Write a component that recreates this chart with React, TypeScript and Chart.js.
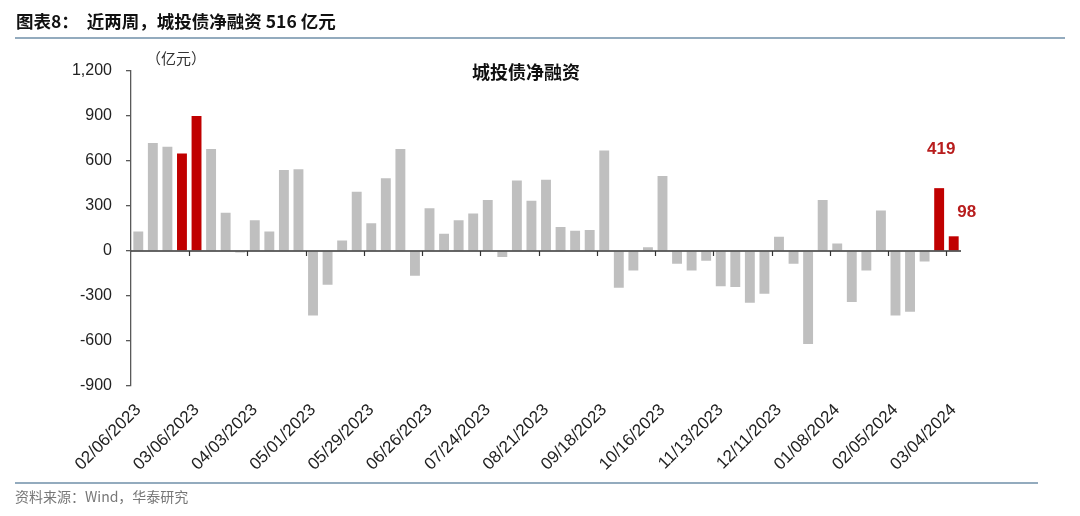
import React, { useEffect, useRef } from "react";
import { Chart, registerables } from "chart.js";

Chart.register(...registerables);

const weeks: string[] = [
  "02/06/2023", "02/13/2023", "02/20/2023", "02/27/2023", "03/06/2023", "03/13/2023", "03/20/2023", "03/27/2023",
  "04/03/2023", "04/10/2023", "04/17/2023", "04/24/2023", "05/01/2023", "05/08/2023", "05/15/2023", "05/22/2023",
  "05/29/2023", "06/05/2023", "06/12/2023", "06/19/2023", "06/26/2023", "07/03/2023", "07/10/2023", "07/17/2023",
  "07/24/2023", "07/31/2023", "08/07/2023", "08/14/2023", "08/21/2023", "08/28/2023", "09/04/2023", "09/11/2023",
  "09/18/2023", "09/25/2023", "10/02/2023", "10/09/2023", "10/16/2023", "10/23/2023", "10/30/2023", "11/06/2023",
  "11/13/2023", "11/20/2023", "11/27/2023", "12/04/2023", "12/11/2023", "12/18/2023", "12/25/2023", "01/01/2024",
  "01/08/2024", "01/15/2024", "01/22/2024", "01/29/2024", "02/05/2024", "02/12/2024", "02/19/2024", "02/26/2024",
  "03/04/2024",
];

const netFinancing: number[] = [
  130, 720, 695, 650, 900, 680, 255, -10,
  205, 130, 540, 545, -430, -225, 70, 395,
  185, 485, 680, -165, 285, 115, 205, 250,
  340, -40, 470, 335, 475, 160, 135, 140,
  670, -245, -130, 25, 500, -85, -130, -65,
  -235, -240, -345, -285, 95, -85, -620, 340,
  50, -340, -130, 270, -430, -405, -70, 419,
  98,
];

const highlightWeeks: string[] = ["02/27/2023", "03/06/2023", "02/26/2024", "03/04/2024"];
const labeledWeeks: string[] = ["02/26/2024", "03/04/2024"];

const yTicks: number[] = [-900, -600, -300, 0, 300, 600, 900, 1200];
const labelEvery = 4;

const headerText = "图表8：  近两周，城投债净融资 516 亿元";
const chartTitle = "城投债净融资";
const unitText = "（亿元）";
const sourceText = "资料来源：Wind，华泰研究";

const GRAY = "#bfbfbf";
const RED = "#c00000";
const LABEL_RED = "#b81d1d";
const CJK = '"Noto Sans CJK SC", sans-serif';
const LATIN = '"Liberation Sans", Arial, sans-serif';

export default function App() {
  const ref = useRef<HTMLCanvasElement | null>(null);

  useEffect(() => {
    document.body.style.margin = "0";
    const canvas = ref.current;
    if (!canvas) return;

    const decor = {
      id: "decor",
      beforeDraw(chart: any) {
        const ctx = chart.ctx;
        ctx.save();
        ctx.fillStyle = "#ffffff";
        ctx.fillRect(0, 0, chart.width, chart.height);
        ctx.restore();
      },
      afterDraw(chart: any) {
        const ctx = chart.ctx;
        const { left, right } = chart.chartArea;
        const x = chart.scales.x;
        const y = chart.scales.y;
        ctx.save();
        // header
        ctx.fillStyle = "#111";
        ctx.font = `bold 17.5px ${CJK}`;
        ctx.textBaseline = "middle";
        ctx.textAlign = "left";
        ctx.fillText(headerText, 16, 21);
        ctx.strokeStyle = "#6f8fa8";
        ctx.lineWidth = 1.6;
        ctx.beginPath();
        ctx.moveTo(15, 38);
        ctx.lineTo(1065, 38);
        ctx.stroke();
        ctx.beginPath();
        ctx.moveTo(15, 483);
        ctx.lineTo(1038, 483);
        ctx.stroke();
        // source
        ctx.fillStyle = "#777";
        ctx.font = `14px ${CJK}`;
        ctx.fillText(sourceText, 15, 497);
        // unit
        ctx.fillStyle = "#333";
        ctx.font = `15px ${CJK}`;
        ctx.fillText(unitText, 146, 58);
        // title
        ctx.fillStyle = "#111";
        ctx.font = `bold 18px ${CJK}`;
        ctx.textAlign = "center";
        ctx.fillText(chartTitle, 526, 72);

        // zero line with tick marks
        const y0 = y.getPixelForValue(0);
        ctx.strokeStyle = "#333";
        ctx.lineWidth = 1.3;
        ctx.beginPath();
        ctx.moveTo(left, y0);
        ctx.lineTo(right, y0);
        ctx.stroke();
        const half = (x.getPixelForValue(1) - x.getPixelForValue(0)) / 2;
        ctx.lineWidth = 1.2;
        for (let i = labelEvery; i < weeks.length; i += labelEvery) {
          const px = Math.round(x.getPixelForValue(i) - half) + 0.5;
          ctx.beginPath();
          ctx.moveTo(px, y0);
          ctx.lineTo(px, y0 + 5);
          ctx.stroke();
        }

        // value labels
        ctx.fillStyle = LABEL_RED;
        ctx.font = `bold 17px ${LATIN}`;
        const meta = chart.getDatasetMeta(0);
        labeledWeeks.forEach((w, k) => {
          const i = weeks.indexOf(w);
          const bar = meta.data[i];
          const v = netFinancing[i];
          ctx.textAlign = "center";
          if (k === 0) {
            ctx.fillText(String(v), bar.x + 2, bar.y - 39);
          } else {
            ctx.fillText(String(v), bar.x + 13, bar.y - 24);
          }
        });
        ctx.restore();
      },
    };

    const chart = new Chart(canvas, {
      type: "bar",
      data: {
        labels: weeks,
        datasets: [
          {
            data: netFinancing,
            backgroundColor: weeks.map((w) => (highlightWeeks.includes(w) ? RED : GRAY)),
            borderWidth: 0,
            barPercentage: 0.68,
            categoryPercentage: 1,
          },
        ],
      },
      options: {
        animation: false,
        responsive: false,
        devicePixelRatio: 1,
        layout: { padding: { left: 0, top: 71, right: 119, bottom: 30 } },
        plugins: { legend: { display: false }, tooltip: { enabled: false }, title: { display: false } },
        scales: {
          x: {
            grid: { display: false, drawTicks: false },
            border: { display: false },
            afterFit: (s: any) => {
              s.height = 100;
            },
            ticks: {
              autoSkip: false,
              minRotation: 45,
              maxRotation: 45,
              padding: 14,
              color: "#222",
              font: { family: LATIN, size: 17 },
              callback: (_v: any, i: number) => (i % labelEvery === 0 ? weeks[i] : ""),
            },
          },
          y: {
            min: -900,
            max: 1200,
            afterFit: (s: any) => {
              s.width = 131;
            },
            afterBuildTicks: (s: any) => {
              s.ticks = yTicks.map((v) => ({ value: v }));
            },
            border: { display: true, color: "#595959", width: 1.3 },
            grid: { drawOnChartArea: false, drawTicks: true, tickLength: 5, color: "#595959", lineWidth: 1.3 },
            ticks: {
              padding: 14,
              color: "#222",
              font: { family: LATIN, size: 16 },
              callback: (v: any) => Number(v).toLocaleString("en-US"),
            },
          },
        },
      },
      plugins: [decor],
    });

    return () => chart.destroy();
  }, []);

  return (
    <div style={{ position: "fixed", left: 0, top: 0, width: 1080, height: 516, background: "#fff" }}>
      <canvas ref={ref} width={1080} height={516} style={{ width: 1080, height: 516, display: "block" }} />
    </div>
  );
}
